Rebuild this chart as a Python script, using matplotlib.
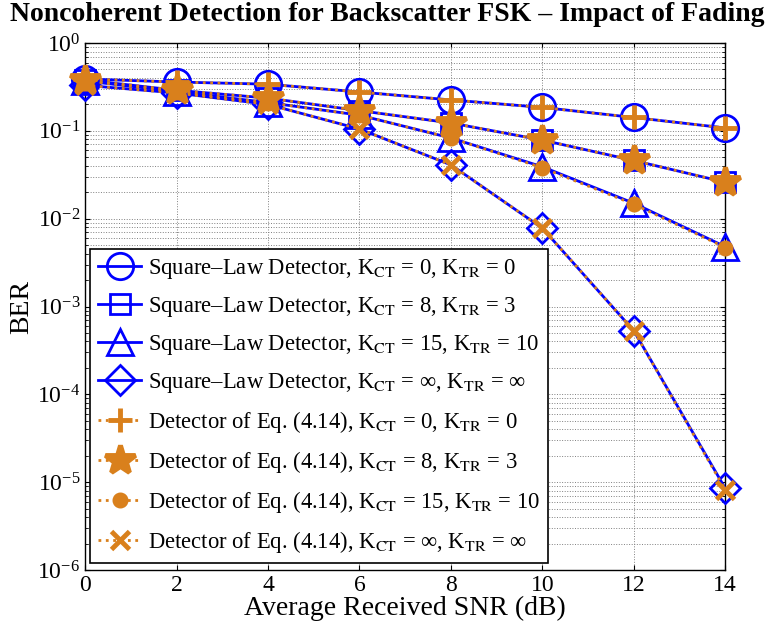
import numpy as np
import matplotlib
matplotlib.use('Agg')
from matplotlib import pyplot as plt
from matplotlib.ticker import LogLocator, NullFormatter

plt.rcParams['font.family'] = ['Liberation Serif', 'DejaVu Serif']
plt.rcParams['mathtext.fontset'] = 'stix'

snr = [0, 2, 4, 6, 8, 10, 12, 14]

# square-law detector
sq_k0 = [0.39, 0.36, 0.34, 0.277, 0.225, 0.185, 0.142, 0.108]
sq_k8 = [0.38, 0.29, 0.236, 0.17, 0.123, 0.0785, 0.046, 0.026]
sq_k15 = [0.37, 0.28, 0.21, 0.151, 0.083, 0.039, 0.015, 0.0048]
sq_inf = [0.33, 0.27, 0.20, 0.105, 0.041, 0.0078, 5.3e-4, 8.5e-6]

# detector of Eq. (4.14)
eq_k0 = [0.39, 0.36, 0.34, 0.277, 0.225, 0.185, 0.142, 0.108]
eq_k8 = [0.38, 0.29, 0.236, 0.17, 0.123, 0.0785, 0.046, 0.026]
eq_k15 = [0.37, 0.28, 0.21, 0.151, 0.083, 0.038, 0.0146, 0.0047]
eq_inf = [0.33, 0.27, 0.20, 0.105, 0.041, 0.0078, 5.3e-4, 8.2e-6]

blue = '#0000FF'
orange = '#D9801C'

lab_sq = ['Square\u2013Law Detector, K$_{\\mathrm{CT}}$ = 0, K$_{\\mathrm{TR}}$ = 0',
          'Square\u2013Law Detector, K$_{\\mathrm{CT}}$ = 8, K$_{\\mathrm{TR}}$ = 3',
          'Square\u2013Law Detector, K$_{\\mathrm{CT}}$ = 15, K$_{\\mathrm{TR}}$ = 10',
          'Square\u2013Law Detector, K$_{\\mathrm{CT}}$ = \u221e, K$_{\\mathrm{TR}}$ = \u221e']
lab_eq = ['Detector of Eq. (4.14), K$_{\\mathrm{CT}}$ = 0, K$_{\\mathrm{TR}}$ = 0',
          'Detector of Eq. (4.14), K$_{\\mathrm{CT}}$ = 8, K$_{\\mathrm{TR}}$ = 3',
          'Detector of Eq. (4.14), K$_{\\mathrm{CT}}$ = 15, K$_{\\mathrm{TR}}$ = 10',
          'Detector of Eq. (4.14), K$_{\\mathrm{CT}}$ = \u221e, K$_{\\mathrm{TR}}$ = \u221e']

fig = plt.figure(figsize=(7.74, 6.33), dpi=100)
ax = fig.add_axes([0.110, 0.0995, 0.827, 0.8325])

sq_data = [sq_k0, sq_k8, sq_k15, sq_inf]
sq_mk = ['o', 's', '^', 'D']
sq_ms = [19, 15, 19, 15]
for y, m, ms, lab in zip(sq_data, sq_mk, sq_ms, lab_sq):
    ax.plot(snr, y, color=blue, lw=2, marker=m, ms=ms, mfc='none',
            mec=blue, mew=2, label=lab, clip_on=False, zorder=3)

eq_data = [eq_k0, eq_k8, eq_k15, eq_inf]
eq_mk = ['+', '*', '.', 'x']
eq_ms = [17, 22, 16, 13]
for y, m, ms, lab in zip(eq_data, eq_mk, eq_ms, lab_eq):
    ax.plot(snr, y, color=orange, lw=2, ls=':', marker=m, ms=ms, mfc=orange,
            mec=orange, mew=3.5, label=lab, clip_on=False, zorder=4)

ax.set_yscale('log')
ax.set_xlim(0, 14)
ax.set_ylim(1e-6, 1)
ax.set_xticks(snr)
ax.yaxis.set_minor_locator(LogLocator(base=10, subs=np.arange(2, 10), numticks=20))
ax.yaxis.set_minor_formatter(NullFormatter())
ax.grid(True, which='major', ls=':', color='#808080', lw=0.7)
ax.grid(True, which='minor', axis='y', ls=':', color='#808080', lw=0.7)
ax.tick_params(labelsize=17, direction='in', which='both', top=True, right=True)
for s in ax.spines.values():
    s.set_linewidth(1)

ax.set_xlabel('Average Received SNR (dB)', fontsize=20, labelpad=0)
ax.set_ylabel('BER', fontsize=20, labelpad=2)
fig.text(0.5, 0.997, 'Noncoherent Detection for Backscatter FSK \u2013 Impact of Fading',
         fontsize=20, fontweight='bold', ha='center', va='top')

leg = ax.legend(loc='lower left', bbox_to_anchor=(0.008, 0.013), fontsize=16.3,
                fancybox=False, framealpha=1, edgecolor='black',
                handlelength=1.9, handletextpad=0.3, labelspacing=0.62,
                borderpad=0.35, borderaxespad=0)
leg.get_frame().set_linewidth(1.2)
leg.set_zorder(5)

plt.savefig('out.png', format='png', dpi=100)
